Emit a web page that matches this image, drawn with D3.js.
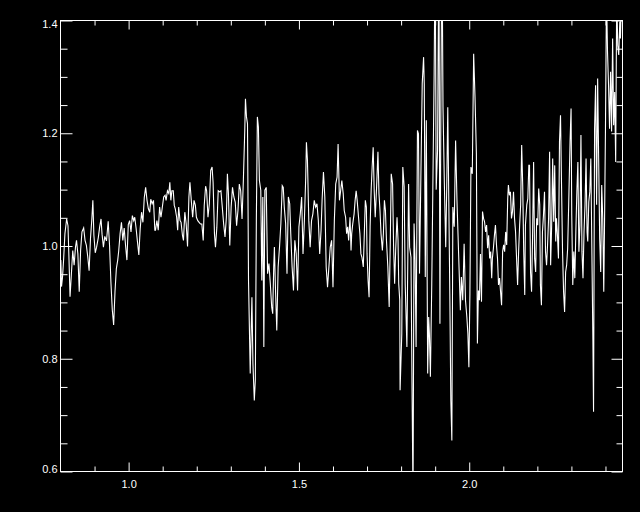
<!DOCTYPE html>
<html>
<head>
<meta charset="utf-8">
<script src="https://cdn.jsdelivr.net/npm/d3@7"></script>
<style>
  html, body { margin: 0; padding: 0; background: #000; }
  svg { display: block; }
</style>
</head>
<body>
<div id="plot"></div>
<script>
// Spectrum (wavelength / relative flux)
var waves = [
  0.801,0.803,0.806,0.809,0.813,0.818,0.822,0.825,0.828,0.832,
  0.836,0.840,0.844,0.847,0.851,0.855,0.859,0.863,0.868,0.872,
  0.876,0.880,0.884,0.888,0.892,0.895,0.898,0.902,0.906,0.911,
  0.915,0.919,0.922,0.926,0.930,0.935,0.940,0.944,0.948,0.952,
  0.956,0.960,0.964,0.968,0.971,0.975,0.979,0.983,0.987,0.991,
  0.995,0.999,1.003,1.007,1.011,1.015,1.018,1.022,1.026,1.030,
  1.034,1.038,1.042,1.046,1.050,1.054,1.058,1.062,1.065,1.069,
  1.073,1.077,
  1.079,1.083,1.087,1.091,1.095,1.099,1.103,1.107,1.110,1.114,
  1.118,1.121,1.124,1.127,1.131,1.134,1.137,1.141,1.144,1.147,
  1.151,1.154,1.158,1.161,1.165,1.169,1.173,1.177,1.180,1.184,
  1.188,1.192,1.196,1.199,1.203,1.207,1.211,1.215,1.219,1.222,
  1.226,1.229,1.233,1.237,1.241,1.245,1.248,1.252,1.255,1.259,
  1.263,1.267,1.271,1.275,1.279,1.283,1.287,1.290,1.293,1.297,
  1.301,1.305,1.309,1.313,1.317,1.321,1.325,1.329,1.333,1.337,
  1.341,1.343,1.346,1.349,
  1.352,1.357,1.362,1.365,1.369,1.372,1.375,1.378,1.381,1.384,
  1.388,1.391,1.394,1.397,1.400,1.404,1.408,1.412,1.416,1.420,
  1.423,1.426,1.428,1.431,1.435,1.439,1.443,1.447,1.451,1.454,
  1.457,1.461,1.465,1.469,1.473,1.476,1.480,1.484,1.488,1.492,
  1.496,1.500,1.504,1.508,1.512,1.516,1.520,1.522,1.525,1.529,
  1.533,1.537,1.541,1.545,1.549,1.553,1.557,1.561,1.565,1.568,
  1.572,1.576,1.580,1.584,1.588,1.592,1.596,1.600,1.604,1.608,
  1.612,1.615,1.619,
  1.626,1.630,1.633,1.637,1.640,1.643,1.646,1.650,1.653,1.655,
  1.658,1.662,1.665,1.668,1.671,1.675,1.679,1.682,1.685,1.689,
  1.692,1.695,1.698,1.700,1.703,1.706,1.709,1.712,1.715,1.718,
  1.721,1.724,1.728,1.732,1.735,1.738,1.741,1.745,1.748,1.751,
  1.754,1.757,1.761,1.765,1.768,1.771,1.775,1.778,1.781,1.784,
  1.788,1.791,1.793,1.796,
  1.797,1.802,1.805,1.809,1.812,1.817,1.822,1.825,1.829,1.832,
  1.835,1.838,1.841,1.844,1.848,1.851,1.854,1.858,1.862,1.866,
  1.868,1.871,1.874,1.878,1.881,1.883,1.886,1.890,1.893,1.897,
  1.900,1.903,1.907,1.911,1.914,1.917,1.920,1.923,1.927,1.931,
  1.934,1.937,1.940,1.943,1.946,1.949,1.952,1.956,1.960,1.964,
  1.967,1.970,1.974,1.977,1.981,1.985,1.989,1.993,1.996,1.999,
  2.002,2.005,2.009,2.013,2.017,2.021,2.024,2.027,2.030,2.033,
  2.036,2.039,2.042,2.045,2.048,2.051,2.054,2.057,2.060,2.063,
  2.066,2.068,2.071,2.074,2.077,2.080,2.083,2.086,2.089,2.092,
  2.095,2.098,2.101,2.104,2.107,2.110,2.113,2.115,2.118,2.121,
  2.124,2.127,2.130,2.133,2.136,2.139,2.142,2.145,2.148,2.151,
  2.154,2.157,2.160,2.163,2.165,2.169,2.172,2.175,
  2.177,2.180,2.183,2.186,2.189,2.192,2.195,2.198,2.201,2.204,
  2.207,2.209,2.212,2.215,2.218,2.221,2.224,2.227,2.230,2.233,
  2.236,2.239,2.242,2.245,2.248,2.251,2.254,2.256,2.259,2.262,
  2.265,2.268,2.271,2.274,2.277,2.280,2.283,2.286,2.289,2.292,
  2.296,2.299,2.301,2.304,2.307,2.310,2.313,2.316,2.319,2.322,
  2.325,2.328,2.331,2.334,2.337,2.340,2.343,2.346,2.348,2.351,
  2.354,2.357,2.360,2.363,2.365,2.368,2.371,2.374,2.377,2.380,
  2.383,2.386,2.389,2.392,2.395,2.397,2.400,2.403,2.406,2.409,
  2.412,2.415,2.418,2.421,2.424,2.427,2.430,2.433,2.436,2.439,
  2.442,2.444,2.447
];

var flux = [
  0.975,0.928,0.945,0.975,1.022,1.048,1.036,0.975,0.910,0.951,
  0.992,0.966,0.998,1.010,0.986,0.919,0.992,1.025,1.032,1.010,
  1.001,0.981,0.956,1.013,1.048,1.081,1.019,0.988,0.998,1.015,
  1.034,1.048,1.021,0.998,1.017,1.009,1.044,1.001,0.936,0.887,
  0.860,0.919,0.960,0.975,0.992,1.022,1.042,1.010,1.032,1.001,
  0.975,1.038,1.045,1.025,1.054,1.045,1.051,1.031,1.007,0.984,
  1.031,1.060,1.042,1.086,1.104,1.081,1.066,1.060,1.083,1.075,
  1.081,1.028,
  1.028,1.045,1.028,1.069,1.051,1.069,1.087,1.090,1.081,1.098,
  1.093,1.113,1.081,1.098,1.098,1.072,1.066,1.051,1.028,1.069,
  1.045,1.042,1.019,1.010,1.060,1.039,0.999,1.087,1.113,1.081,
  1.051,1.081,1.072,1.051,1.045,1.042,1.039,1.039,1.010,1.072,
  1.106,1.098,1.051,1.075,1.134,1.140,1.113,1.022,0.998,1.033,
  1.098,1.096,1.098,1.069,1.039,1.016,1.051,1.128,1.093,1.001,
  1.069,1.104,1.087,1.078,1.036,1.063,1.110,1.098,1.048,1.119,
  1.205,1.261,1.229,1.217,
  0.939,0.774,0.909,0.791,0.726,0.762,1.045,1.229,1.211,1.116,
  1.099,0.939,1.087,0.821,1.099,1.104,0.951,0.969,0.933,0.892,
  0.880,0.963,0.998,0.927,0.850,0.963,0.998,1.040,1.107,1.104,
  1.069,1.040,0.951,1.087,1.075,1.022,0.963,0.921,1.010,0.986,
  0.921,1.034,1.057,1.087,0.986,1.045,1.122,1.184,1.152,1.045,
  0.998,1.045,1.057,1.081,1.069,1.075,1.045,0.986,1.028,1.081,
  1.131,1.087,0.963,0.927,0.963,0.998,1.010,0.927,1.045,1.110,
  1.122,1.181,1.081,
  1.116,1.093,1.063,1.051,1.022,1.034,1.010,1.051,0.992,1.022,
  1.039,1.057,1.081,1.098,1.081,1.051,1.022,0.986,0.980,0.963,
  1.022,1.081,1.069,0.986,0.939,0.909,1.034,1.098,1.140,1.175,
  1.098,1.051,1.104,1.167,1.093,1.063,1.022,0.992,1.022,1.081,
  1.063,1.010,0.963,0.892,0.998,1.128,1.110,0.998,0.933,0.992,
  1.051,1.010,0.933,0.904,
  0.744,0.845,1.140,1.105,0.933,0.821,1.110,0.998,0.980,0.756,
  0.550,1.040,0.975,0.821,1.205,1.199,0.951,1.122,1.288,1.335,
  1.288,0.945,1.223,0.774,0.874,0.845,0.768,0.933,1.093,1.306,
  1.550,1.100,1.170,1.550,0.862,1.282,1.550,1.246,1.110,0.998,
  1.105,1.246,1.081,0.915,0.726,0.655,1.069,1.034,1.187,1.081,
  1.022,0.963,0.886,0.945,0.904,1.004,0.904,0.874,0.845,0.785,
  0.915,1.140,1.128,1.341,1.264,1.164,0.827,0.921,0.904,0.986,
  0.901,1.061,1.049,1.043,1.025,1.037,0.996,1.019,0.978,0.990,
  0.943,0.978,0.996,1.019,1.037,1.002,0.978,0.931,0.943,0.919,
  0.895,0.990,1.002,0.990,1.025,1.002,1.084,1.108,1.090,1.096,
  1.049,1.061,1.096,1.049,1.025,0.978,0.931,0.990,1.037,1.073,
  1.179,1.108,0.990,0.913,1.037,1.073,1.084,1.143,
  1.143,0.954,0.919,1.019,1.149,0.978,0.954,1.049,1.037,1.102,
  1.073,0.931,0.895,1.025,1.055,1.096,0.990,0.966,1.002,1.049,
  1.167,0.966,1.037,1.155,1.043,1.143,1.008,1.049,1.019,0.978,
  1.185,1.232,1.108,0.990,0.919,0.883,0.954,0.966,0.996,1.073,
  1.185,1.244,1.055,0.931,0.990,0.943,1.025,1.096,1.149,0.990,
  1.037,1.197,0.990,0.943,1.025,1.073,1.155,1.025,1.008,1.078,
  1.096,1.155,0.996,0.836,0.706,1.208,1.285,1.073,1.297,1.155,
  1.013,0.954,1.108,1.049,0.919,1.025,1.208,1.450,1.344,1.285,
  1.208,1.309,1.203,1.368,1.214,1.273,1.149,1.450,1.356,1.339,
  1.398,1.368,1.450
];

// Tick values
var xMajor = [1.0, 1.5, 2.0];
var xMinor = [0.9, 1.1, 1.2, 1.3, 1.4, 1.6, 1.7, 1.8, 1.9, 2.1, 2.2, 2.3, 2.4];
var yMajor = [0.6, 0.8, 1.0, 1.2, 1.4];
var yMinor = [0.65, 0.7, 0.75, 0.85, 0.9, 0.95, 1.05, 1.1, 1.15, 1.25, 1.3, 1.35];
var xDomain = [0.8, 2.45];
var yDomain = [0.6, 1.4];

if (waves.length !== flux.length) {
  throw new Error("length mismatch " + waves.length + " vs " + flux.length);
}

var svgWidth = 640;
var svgHeight = 512;
var margin = { top: 20.5, right: 17.5, bottom: 40.5, left: 60.5 };
var width = svgWidth - margin.left - margin.right;
var height = svgHeight - margin.top - margin.bottom;

var svg = d3.select("#plot")
  .append("svg")
  .attr("width", svgWidth)
  .attr("height", svgHeight)
  .style("background", "#000");

var chartGroup = svg.append("g")
  .attr("transform", `translate(${margin.left}, ${margin.top})`);

var xScale = d3.scaleLinear().domain(xDomain).range([0, width]);
var yScale = d3.scaleLinear().domain(yDomain).range([height, 0]);

// clip the spectrum to the plot box
chartGroup.append("clipPath")
  .attr("id", "box")
  .append("rect")
  .attr("x", 0).attr("y", 0)
  .attr("width", width).attr("height", height);

var points = waves.map((w, i) => ({ w: w, f: flux[i] }));

var line = d3.line()
  .x(d => xScale(d.w))
  .y(d => yScale(d.f));

chartGroup.append("path")
  .datum(points)
  .attr("clip-path", "url(#box)")
  .attr("fill", "none")
  .attr("stroke", "#fff")
  .attr("stroke-width", 1.1)
  .attr("stroke-linejoin", "miter")
  .attr("d", line);

// axes: ticks pointing inward on all four sides
function styleAxis(g) {
  g.style("color", "#fff");
  g.select(".domain").remove();
  g.selectAll("text")
    .attr("font-family", "'Liberation Sans', Arial, sans-serif")
    .attr("font-size", 11);
}

var fmt = d3.format(".1f");

chartGroup.append("g")
  .attr("transform", `translate(0, ${height})`)
  .call(d3.axisBottom(xScale).tickValues(xMajor).tickSize(-9).tickPadding(9).tickFormat(fmt))
  .call(styleAxis);
chartGroup.append("g")
  .attr("transform", `translate(0, ${height})`)
  .call(d3.axisBottom(xScale).tickValues(xMinor).tickSize(-5).tickFormat(""))
  .call(styleAxis);

chartGroup.append("g")
  .call(d3.axisTop(xScale).tickValues(xMajor).tickSize(-9).tickFormat(""))
  .call(styleAxis);
chartGroup.append("g")
  .call(d3.axisTop(xScale).tickValues(xMinor).tickSize(-5).tickFormat(""))
  .call(styleAxis);

var leftAxis = chartGroup.append("g")
  .call(d3.axisLeft(yScale).tickValues(yMajor).tickSize(-12).tickPadding(3).tickFormat(fmt))
  .call(styleAxis);
leftAxis.selectAll("text")
  .attr("y", d => d === 1.4 ? 3 : (d === 0.6 ? -3 : 0));
chartGroup.append("g")
  .call(d3.axisLeft(yScale).tickValues(yMinor).tickSize(-7).tickFormat(""))
  .call(styleAxis);

chartGroup.append("g")
  .attr("transform", `translate(${width}, 0)`)
  .call(d3.axisRight(yScale).tickValues(yMajor).tickSize(-11).tickFormat(""))
  .call(styleAxis);
chartGroup.append("g")
  .attr("transform", `translate(${width}, 0)`)
  .call(d3.axisRight(yScale).tickValues(yMinor).tickSize(-6).tickFormat(""))
  .call(styleAxis);

// plot box
chartGroup.append("rect")
  .attr("x", 0).attr("y", 0)
  .attr("width", width).attr("height", height)
  .attr("fill", "none")
  .attr("stroke", "#fff")
  .attr("stroke-width", 1);
</script>
</body>
</html>
